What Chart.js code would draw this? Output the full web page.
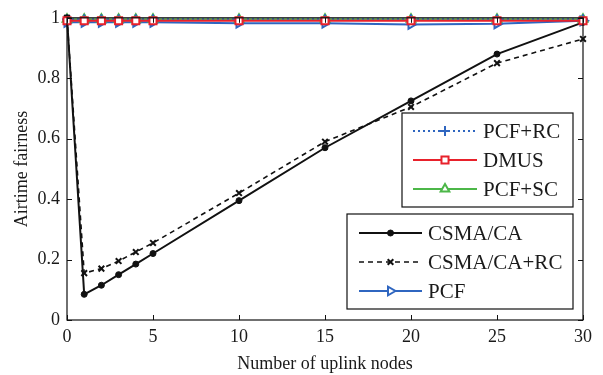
<!DOCTYPE html>
<html><head><meta charset="utf-8">
<script src="https://cdn.jsdelivr.net/npm/chart.js@4/dist/chart.umd.min.js"></script>
<style>html,body{margin:0;padding:0;background:#fff;}#wrap{width:603px;height:375px;}</style>
</head><body><div id="wrap"><canvas id="c" width="603" height="375"></canvas></div>
<script>
const xNodes = [0, 1, 2, 3, 4, 5, 10, 15, 20, 25, 30];
const pcfRc   = [0.995, 0.995, 0.995, 0.995, 0.995, 0.995, 0.995, 0.995, 0.995, 0.995, 0.995];
const dmus    = [0.99, 0.99, 0.99, 0.99, 0.99, 0.99, 0.99, 0.99, 0.99, 0.99, 0.99];
const pcfSc   = [0.995, 0.995, 0.995, 0.995, 0.995, 0.995, 0.995, 0.995, 0.995, 0.995, 0.995];
const csma    = [1.0, 0.085, 0.115, 0.15, 0.185, 0.22, 0.395, 0.57, 0.725, 0.88, 0.985];
const csmaRc  = [1.0, 0.155, 0.17, 0.195, 0.225, 0.255, 0.42, 0.59, 0.705, 0.85, 0.93];
const pcf     = [0.985, 0.985, 0.985, 0.985, 0.985, 0.985, 0.982, 0.982, 0.978, 0.98, 0.99];
const xTicks = [0, 5, 10, 15, 20, 25, 30];
const yTicks = [0, 0.2, 0.4, 0.6, 0.8, 1];
const legendA = ['PCF+RC', 'DMUS', 'PCF+SC'];
const legendB = ['CSMA/CA', 'CSMA/CA+RC', 'PCF'];

const BLUE = '#2f66c0', RED = '#e8212b', GREEN = '#4cb748', BLACK = '#111';
const FONT = 'Liberation Serif';
const pts = ys => xNodes.map((x, i) => ({x: x, y: ys[i]}));

const datasets = [
  {label: 'CSMA/CA', data: pts(csma), borderColor: BLACK, backgroundColor: BLACK, borderWidth: 2,
   pointStyle: 'circle', pointRadius: 3, pointBorderWidth: 1},
  {label: 'CSMA/CA+RC', data: pts(csmaRc), borderColor: BLACK, backgroundColor: BLACK, borderWidth: 1.6, borderDash: [5, 4],
   pointStyle: 'crossRot', pointRadius: 4, pointBorderWidth: 2},
  {label: 'PCF', data: pts(pcf), borderColor: BLUE, backgroundColor: '#fff', borderWidth: 2,
   pointStyle: 'triangle', pointRotation: 90, pointRadius: 5, pointBorderWidth: 2},
  {label: 'PCF+SC', data: pts(pcfSc), borderColor: GREEN, backgroundColor: '#fff', borderWidth: 2,
   pointStyle: 'triangle', pointRadius: 5, pointBorderWidth: 2},
  {label: 'PCF+RC', data: pts(pcfRc), borderColor: BLUE, backgroundColor: BLUE, borderWidth: 2, borderDash: [2, 3],
   pointStyle: 'cross', pointRadius: 5, pointBorderWidth: 2},
  {label: 'DMUS', data: pts(dmus), borderColor: RED, backgroundColor: '#fff', borderWidth: 2,
   pointStyle: 'rect', pointRadius: 5, pointBorderWidth: 2}
];
datasets.forEach(d => { d.fill = false; d.tension = 0; d.clip = false; });
datasets[0].order = 2; datasets[1].order = 3; datasets[2].order = 6; datasets[3].order = 5; datasets[4].order = 4; datasets[5].order = 1;

function drawLegend(chart, names, box, lineX0, lineX1, textX, rows) {
  const ctx = chart.ctx;
  ctx.save();
  ctx.fillStyle = '#fff';
  ctx.fillRect(box.x, box.y, box.w, box.h);
  ctx.strokeStyle = '#111';
  ctx.lineWidth = 1.2;
  ctx.strokeRect(box.x, box.y, box.w, box.h);
  names.forEach((name, i) => {
    const ds = chart.data.datasets.find(d => d.label === name);
    const y = rows[i];
    ctx.save();
    ctx.strokeStyle = ds.borderColor;
    ctx.lineWidth = ds.borderWidth;
    ctx.setLineDash(ds.borderDash || []);
    ctx.beginPath(); ctx.moveTo(lineX0, y); ctx.lineTo(lineX1, y); ctx.stroke();
    ctx.setLineDash([]);
    ctx.fillStyle = ds.backgroundColor;
    ctx.strokeStyle = ds.borderColor;
    ctx.lineWidth = ds.pointBorderWidth;
    Chart.helpers.drawPoint(ctx, {pointStyle: ds.pointStyle, rotation: ds.pointRotation || 0,
      radius: ds.pointRadius, borderWidth: ds.pointBorderWidth}, (lineX0 + lineX1) / 2, y);
    ctx.restore();
    ctx.fillStyle = '#1a1a1a';
    ctx.font = '21px "' + FONT + '"';
    ctx.textBaseline = 'middle';
    ctx.textAlign = 'left';
    ctx.fillText(name, textX, y + 1);
  });
  ctx.restore();
}

const framePlugin = {
  id: 'frame',
  afterDatasetsDraw(chart) {
    const ctx = chart.ctx, a = chart.chartArea, xs = chart.scales.x, ys = chart.scales.y;
    ctx.save();
    ctx.strokeStyle = '#111';
    ctx.lineWidth = 1;
    ctx.beginPath();
    xTicks.forEach(v => {
      const px = Math.round(xs.getPixelForValue(v)) + 0.5;
      ctx.moveTo(px, a.bottom); ctx.lineTo(px, a.bottom - 5);
      ctx.moveTo(px, a.top); ctx.lineTo(px, a.top + 5);
    });
    yTicks.forEach(v => {
      const py = Math.round(ys.getPixelForValue(v)) + 0.5;
      ctx.moveTo(a.left, py); ctx.lineTo(a.left + 5, py);
      ctx.moveTo(a.right, py); ctx.lineTo(a.right - 5, py);
    });
    ctx.stroke();
    ctx.lineWidth = 1.2;
    ctx.strokeRect(a.left, a.top, a.right - a.left, a.bottom - a.top);
    ctx.restore();
  },
  afterDraw(chart) {
    drawLegend(chart, legendA, {x: 402, y: 113, w: 171, h: 94}, 413, 477, 483, [131, 160, 189]);
    drawLegend(chart, legendB, {x: 347, y: 214, w: 226, h: 95}, 359, 422, 428, [233, 262, 291]);
  }
};

new Chart(document.getElementById('c'), {
  type: 'line',
  data: {datasets: datasets},
  options: {
    responsive: false,
    animation: false,
    devicePixelRatio: 1,
    layout: {padding: {top: 15, right: 20, left: 0, bottom: 0}},
    plugins: {legend: {display: false}, tooltip: {enabled: false}},
    scales: {
      x: {
        type: 'linear', min: 0, max: 30,
        afterFit: s => { s.height = 55; },
        afterBuildTicks: s => { s.ticks = xTicks.map(v => ({value: v})); },
        grid: {display: false, drawTicks: false},
        border: {display: false},
        ticks: {color: '#1a1a1a', font: {family: FONT, size: 18}, padding: 6, maxRotation: 0},
        title: {display: true, text: 'Number of uplink nodes', color: '#1a1a1a', font: {family: FONT, size: 18}, padding: {top: 0, bottom: 0}}
      },
      y: {
        min: 0, max: 1,
        afterFit: s => { s.width = 67; },
        afterBuildTicks: s => { s.ticks = yTicks.map(v => ({value: v})); },
        grid: {display: false, drawTicks: false},
        border: {display: false},
        ticks: {color: '#1a1a1a', font: {family: FONT, size: 18}, padding: 7, callback: v => String(v)},
        title: {display: true, text: 'Airtime fairness', color: '#1a1a1a', font: {family: FONT, size: 18}, padding: {top: 11, bottom: 4}}
      }
    }
  },
  plugins: [framePlugin]
});
</script>
</body></html>
